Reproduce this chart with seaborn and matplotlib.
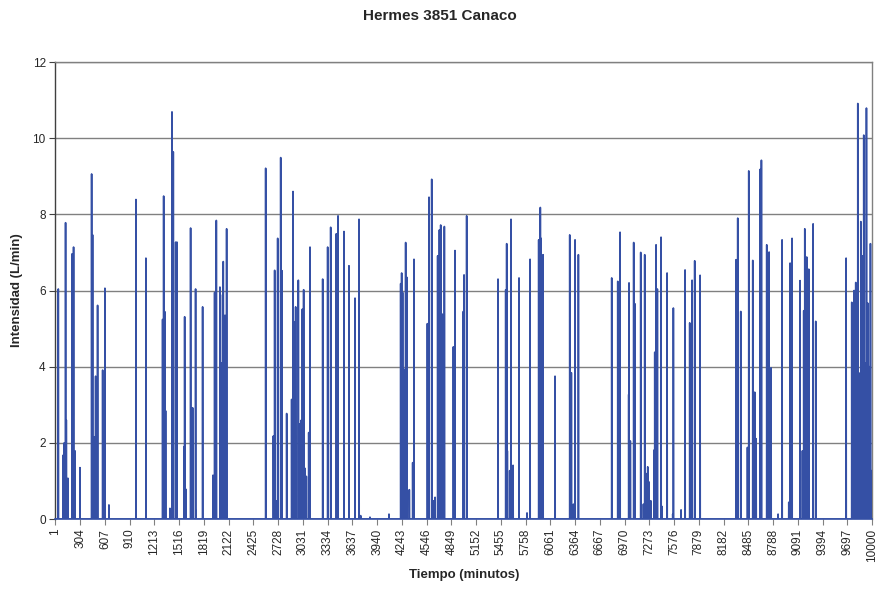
import numpy as np
import pandas as pd
import matplotlib
matplotlib.use("Agg")
import matplotlib.pyplot as plt
import seaborn as sns

# Spike events: minute and intensity (L/min)
spike_min = [36, 97, 109, 125, 134, 154, 203, 223, 240, 301, 444, 456, 477, 493, 517, 579, 607, 656,
             987, 1109, 1313, 1326, 1342, 1350, 1403, 1428, 1444, 1473, 1481, 1489, 1575, 1583, 1599,
             1656, 1681, 1717, 1722, 1803, 1930, 1950, 1971, 2015, 2028, 2048, 2056, 2077, 2097,
             2575, 2669, 2685, 2701, 2722, 2759, 2775, 2832, 2893, 2910, 2926, 2942, 2975, 2995, 3008,
             3024, 3040, 3057, 3073, 3102, 3118, 3273, 3334, 3371, 3440, 3461, 3534, 3595, 3669, 3718,
             3738, 3852, 4085, 4228, 4240, 4252, 4269, 4289, 4302, 4334, 4375, 4391, 4555, 4575, 4608,
             4628, 4649, 4681, 4702, 4718, 4738, 4763, 4873, 4893, 4995, 5004, 5036,
             5420, 5514, 5526, 5534, 5563, 5579, 5604, 5677, 5775, 5812, 5918, 5938, 5947, 5971, 6118,
             6298, 6318, 6343, 6363, 6404, 6812, 6886, 6914, 7020, 7024, 7040, 7081, 7097, 7167, 7200,
             7216, 7228, 7253, 7265, 7290, 7330, 7339, 7355, 7371, 7416, 7428, 7490, 7559, 7567,
             7661, 7710, 7767, 7796, 7828, 7894, 8335, 8355, 8392, 8474, 8490, 8539, 8563, 8580, 8629,
             8645, 8710, 8739, 8763, 8849, 8898, 8980, 8996, 9020, 9118, 9147, 9163, 9176, 9200, 9225,
             9278, 9310, 9682, 9751, 9767, 9780, 9790, 9800, 9815, 9825, 9837, 9850, 9862, 9870, 9882,
             9898, 9910, 9920, 9931, 9940, 9947, 9955, 9963, 9970, 9980, 9992, 10000]
spike_val = [6.04, 1.68, 2.0, 7.78, 2.6, 1.07, 6.96, 7.14, 1.79, 1.35, 9.06, 7.46, 2.16, 3.75, 5.61, 3.91, 6.06, 0.37,
             8.39, 6.85, 5.24, 8.48, 5.44, 2.84, 0.28, 10.69, 9.64, 7.27, 5.4, 7.27, 1.9, 5.31, 0.78,
             7.64, 2.92, 6.04, 0.22, 5.57, 1.15, 5.95, 7.84, 6.09, 4.1, 5.89, 6.76, 5.35, 7.62,
             9.21, 2.18, 6.53, 0.48, 7.37, 9.49, 6.52, 2.77, 3.14, 8.6, 5.17, 5.57, 6.27, 2.5, 2.59,
             5.51, 6.02, 1.33, 1.12, 2.27, 7.14, 6.3, 7.14, 7.66, 7.49, 7.96, 7.55, 6.65, 5.8, 7.87,
             0.09, 0.05, 0.13, 6.18, 6.46, 5.95, 3.93, 7.26, 6.35, 0.77, 1.48, 6.82, 5.13, 8.45, 8.92,
             0.48, 0.57, 6.91, 7.59, 7.72, 5.38, 7.68, 4.52, 7.05, 5.45, 6.41, 7.96,
             6.3, 6.02, 7.23, 1.79, 1.27, 7.87, 1.41, 6.33, 0.16, 6.82, 7.33, 8.18, 7.37, 6.94, 3.75,
             7.46, 3.84, 0.39, 7.33, 6.94, 6.33, 6.24, 7.53, 3.27, 6.2, 2.05, 7.26, 5.65, 7.0, 0.39,
             6.94, 1.2, 1.37, 0.98, 0.48, 1.81, 4.38, 7.2, 6.04, 7.4, 0.33, 6.46, 0.13, 5.54,
             0.24, 6.54, 5.15, 6.27, 6.78, 6.4, 6.81, 7.9, 5.45, 1.88, 9.14, 6.79, 3.33, 2.11, 9.18,
             9.42, 7.2, 7.01, 3.97, 0.13, 7.33, 0.44, 6.72, 7.37, 6.26, 1.79, 5.47, 7.62, 6.88, 6.56,
             7.75, 5.19, 6.85, 5.69, 2.14, 6.0, 4.5, 6.21, 3.5, 10.91, 3.84, 2.0, 7.81, 3.0, 6.91,
             10.08, 4.1, 1.5, 10.79, 2.5, 5.67, 1.5, 2.02, 4.0, 7.23, 1.27, 0.87]

x_ticks = list(range(1, 10001, 303))
y_ticks = [0, 2, 4, 6, 8, 10, 12]

minutes = np.arange(1, 10001)
intensity = np.zeros(len(minutes))
for m, v in zip(spike_min, spike_val):
    intensity[m - 1] = max(intensity[m - 1], v)
df = pd.DataFrame({"Tiempo": minutes, "Intensidad": intensity})

sns.set_theme(style="white")
plt.rcParams['font.family'] = ['Liberation Sans', 'DejaVu Sans']

fig = plt.figure(figsize=(8.8, 5.9), dpi=100)
ax = fig.add_axes([0.063, 0.1203, 0.928, 0.7746])

for y in y_ticks[1:]:
    ax.axhline(y, color='#808080', lw=1.0, zorder=0)

sns.lineplot(data=df, x="Tiempo", y="Intensidad", ax=ax, color='#3550A5',
             lw=1.2, estimator=None, zorder=3)

ax.set_xlim(1, 10000)
ax.set_ylim(0, 12)
ax.set_xticks(x_ticks)
ax.set_xticklabels([str(t) for t in x_ticks], rotation=90, fontsize=8.5)
ax.set_yticks(y_ticks)
ax.set_yticklabels([str(t) for t in y_ticks], fontsize=8.5)
ax.tick_params(axis='x', length=4, width=0.8, color='#808080', pad=3, bottom=True)
ax.tick_params(axis='y', length=4, width=0.8, color='#404040', pad=3, left=True)

for s in ['top', 'right']:
    ax.spines[s].set_color('#808080')
    ax.spines[s].set_linewidth(1.0)
ax.spines['left'].set_color('#404040')
ax.spines['left'].set_linewidth(1.0)
ax.spines['bottom'].set_color('#3550A5')
ax.spines['bottom'].set_linewidth(1.2)

ax.set_xlabel("Tiempo (minutos)", fontsize=9.5, fontweight='bold', labelpad=5)
ax.set_ylabel("Intensidad (L/min)", fontsize=9.5, fontweight='bold', labelpad=7)
fig.suptitle("Hermes 3851 Canaco", fontsize=11, fontweight='bold', y=0.985)

fig.savefig("out.png", dpi=100)
